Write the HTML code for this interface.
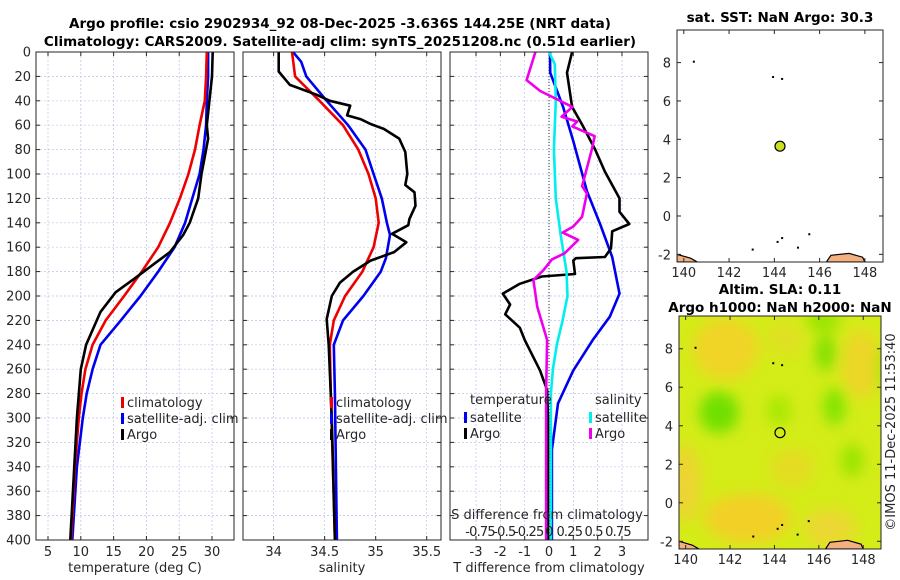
<!DOCTYPE html>
<html><head><meta charset="utf-8">
<style>
html,body{margin:0;padding:0;background:#fff;}
svg{display:block;font-family:"DejaVu Sans","Liberation Sans",sans-serif;}
text{fill:#262626;font-size:13px;}
.t{font-weight:bold;fill:#000;font-size:13.5px;}
</style></head>
<body>
<svg id="c" width="900" height="580" viewBox="0 0 900 580">
<text class="t" x="340" y="28" text-anchor="middle">Argo profile: csio 2902934_92 08-Dec-2025 -3.636S 144.25E (NRT data)</text>
<text class="t" x="340" y="46" text-anchor="middle">Climatology: CARS2009. Satellite-adj clim: synTS_20251208.nc (0.51d earlier)</text>
<g id="p1"></g>
<g id="p2"></g>
<g id="p3"></g>
<g id="m1"></g>
<g id="m2"></g>
<text class="t" x="780" y="22" text-anchor="middle">sat. SST: NaN Argo: 30.3</text>
<text class="t" x="780" y="294" text-anchor="middle">Altim. SLA: 0.11</text>
<text class="t" x="780" y="312" text-anchor="middle">Argo h1000: NaN h2000: NaN</text>
<text x="895" y="432" transform="rotate(-90 895 432)" text-anchor="middle" style="font-size:13px">©IMOS 11-Dec-2025 11:53:40</text>
</svg>
<script>
// depths (m)
const tClimDepth=[0,20,40,60,80,100,120,140,160,180,200,220,240,260,280,300,340,400];
const tClim=[29.2,29.1,28.9,28.1,27.4,26.4,25.1,23.6,21.8,19.3,16.6,13.8,11.8,10.7,10.1,9.7,9.1,8.5];
const tSatDepth=[0,20,40,60,80,100,120,140,160,180,200,220,240,260,280,300,340,400];
const tSat=[29.4,29.4,29.2,29.1,28.7,28.1,27.0,25.9,24.3,21.8,19.1,16.1,13.0,11.8,10.9,10.3,9.4,8.7];
const tArgoDepth=[0,20,40,60,71,80,100,120,140,150,164,172,186,197,213,240,260,300,400];
const tArgo=[30.1,30.0,29.6,29.2,29.4,29.1,28.4,27.9,26.6,25.6,23.6,21.6,18.1,15.3,13.0,10.8,10.0,9.4,8.4];
const sClimDepth=[0,20,40,60,80,100,120,140,160,169,180,200,220,240,280,400];
const sClim=[34.18,34.21,34.45,34.68,34.83,34.93,35.0,35.03,34.98,34.93,34.87,34.70,34.59,34.55,34.56,34.6];
const sSatDepth=[0,8,20,40,60,80,100,120,140,150,169,180,200,220,240,280,400];
const sSat=[34.19,34.27,34.32,34.52,34.73,34.9,34.98,35.06,35.11,35.14,35.1,35.05,34.88,34.68,34.59,34.6,34.62];
const sArgoDepth=[0,16,27,35,40,44,52,55,59,63,71,82,100,109,115,126,137,142,149,156,164,171,180,189,200,219,240,300,400];
const sArgo=[34.05,34.05,34.16,34.42,34.55,34.75,34.72,34.85,34.95,35.08,35.23,35.29,35.31,35.29,35.38,35.39,35.33,35.32,35.16,35.30,35.18,34.95,34.78,34.65,34.57,34.52,34.54,34.57,34.6];
const dTSatDepth=[0,17,45,73,114,141,168,198,217,236,261,288,326,400];
const dTSat=[0.04,0.05,0.58,1.0,1.56,2.1,2.6,2.9,2.5,1.8,1.0,0.37,0.12,0.12];
const dTArgoDepth=[0,17,45,61,80,98,120,131,141,147,161,168,169,171,182,184,190,198,207,215,226,236,261,277,300,400];
const dTArgo=[0.95,0.74,0.95,1.4,1.9,2.3,2.9,2.9,3.3,2.6,2.55,2.3,1.1,1.0,1.07,-0.29,-1.2,-1.9,-1.6,-1.8,-1.2,-1.0,-0.37,-0.08,-0.04,-0.04];
const dSSatDepth=[0,10,40,80,120,150,180,200,220,240,260,280,400];
const dSSat=[0.0,0.06,0.07,0.05,0.07,0.12,0.18,0.19,0.14,0.08,0.04,0.02,0.02];
const dSArgoDepth=[0,23,32,45,53,57,61,69,80,110,116,135,143,148,154,165,170,179,187,209,236,280,400];
const dSArgo=[-0.14,-0.23,-0.09,0.24,0.13,0.29,0.24,0.47,0.44,0.34,0.39,0.34,0.25,0.14,0.30,0.16,0.03,-0.06,-0.16,-0.12,-0.02,-0.03,-0.03];
const depthTicks=[0,20,40,60,80,100,120,140,160,180,200,220,240,260,280,300,320,340,360,380,400];
const p1Ticks=[5,10,15,20,25,30];
const p2Ticks=[34,34.5,35,35.5];
const p3Ticks=[-3,-2,-1,0,1,2,3];
const p3SLabels=["-0.75","-0.5","-0.25","0","0.25","0.5","0.75"];
const p3SVals=[-0.75,-0.5,-0.25,0,0.25,0.5,0.75];
const argoLon=[144.25], argoLat=[3.64];

const NS="http://www.w3.org/2000/svg";
function mk(p,tag,a,txt){const e=document.createElementNS(NS,tag);for(const k in a)e.setAttribute(k,a[k]);if(txt!=null)e.textContent=txt;p.appendChild(e);return e;}
const yTop=52,yBot=540;
const Y=d=>yTop+(d/400)*(yBot-yTop);

function panel(id,x0,x1,xmin,xmax,ticks,label,fmt){
  const g=document.getElementById(id);
  const X=v=>x0+(v-xmin)/(xmax-xmin)*(x1-x0);
  mk(g,'rect',{x:x0,y:yTop,width:x1-x0,height:yBot-yTop,fill:'#fff'});
  for(const d of depthTicks){
    const l=mk(g,'line',{x1:x0,x2:x1,y1:Y(d),y2:Y(d),stroke:'#b8c4e8','stroke-width':0.7,'stroke-dasharray':'2,2'});
    
    
    mk(g,'line',{x1:x0,x2:x0+4,y1:Y(d),y2:Y(d),stroke:'#262626'});
    mk(g,'line',{x1:x1,x2:x1-4,y1:Y(d),y2:Y(d),stroke:'#262626'});
  }
  for(const t of ticks){
    const l=mk(g,'line',{x1:X(t),x2:X(t),y1:yTop,y2:yBot,stroke:'#b8c4e8','stroke-width':0.7,'stroke-dasharray':'2,2'});
    
    
    mk(g,'line',{x1:X(t),x2:X(t),y1:yBot,y2:yBot-4,stroke:'#262626'});
    mk(g,'line',{x1:X(t),x2:X(t),y1:yTop,y2:yTop+4,stroke:'#262626'});
    const tx=mk(g,'text',{x:X(t),y:yBot+16,'text-anchor':'middle'},fmt(t));
    
    
  }
  const xl=mk(g,'text',{x:(x0+x1)/2,y:572,'text-anchor':'middle'},label);
  
  
  return {g,X};
}
function line(P,vals,depths,color,name,w){
  const pts=vals.map((v,i)=>P.X(v).toFixed(1)+','+Y(depths[i]).toFixed(1)).join(' ');
  const e=mk(P.g,'polyline',{points:pts,fill:'none',stroke:color,'stroke-width':w||2.6,'stroke-linejoin':'round'});
  
  
}
function frame(P,x0,x1){mk(P.g,'rect',{x:x0,y:yTop,width:x1-x0,height:yBot-yTop,fill:'none',stroke:'#262626','stroke-width':1});}
function legend(P,x,y,items){
  items.forEach((it,i)=>{
    const yy=y+i*16;
    const m=mk(P.g,'rect',{x:x,y:yy-9,width:3,height:11,fill:it[1]});
    
    
    const t=mk(P.g,'text',{x:x+6,y:yy+1},it[0]);
    
    
  });
}

// Panel 1
const P1=panel('p1',36,234,3.17,33.35,p1Ticks,'temperature (deg C)',t=>t);
depthTicks.forEach(d=>{const t=mk(P1.g,'text',{x:31,y:Y(d)+4.5,'text-anchor':'end'},d);
  
  });
line(P1,tSat,tSatDepth,'#0000ee','temp-satellite-line');
line(P1,tClim,tClimDepth,'#ee0000','temp-climatology-line');
line(P1,tArgo,tArgoDepth,'#000','temp-argo-line');
legend(P1,121,406,[['climatology','#ee0000'],['satellite-adj. clim','#0000ee'],['Argo','#000']]);
frame(P1,36,234);

// Panel 2
const P2=panel('p2',243,441,33.70,35.64,p2Ticks,'salinity',t=>t);
line(P2,sSat,sSatDepth,'#0000ee','sal-satellite-line');
line(P2,sClim,sClimDepth,'#ee0000','sal-climatology-line');
line(P2,sArgo,sArgoDepth,'#000','sal-argo-line');
legend(P2,330,406,[['climatology','#ee0000'],['satellite-adj. clim','#0000ee'],['Argo','#000']]);
frame(P2,243,441);

// Panel 3
const P3=panel('p3',450,648,-4.07,4.07,p3Ticks,'T difference from climatology',t=>t);
const z=mk(P3.g,'line',{x1:P3.X(0),x2:P3.X(0),y1:yTop,y2:yBot,stroke:'#333','stroke-width':1,'stroke-dasharray':'1,2'});


line(P3,dTSat,dTSatDepth,'#0000ee','dT-satellite-line');
line(P3,dTArgo,dTArgoDepth,'#000','dT-argo-line');
line(P3,dSSat.map(v=>v*4),dSSatDepth,'#00eeee','dS-satellite-line');
line(P3,dSArgo.map(v=>v*4),dSArgoDepth,'#ee00ee','dS-argo-line');
const h1=mk(P3.g,'text',{x:470,y:404},'temperature');


const h2=mk(P3.g,'text',{x:595,y:404},'salinity');


legend(P3,464,421,[['satellite','#0000ee'],['Argo','#000']]);
legend(P3,589,421,[['satellite','#00eeee'],['Argo','#ee00ee']]);
const st=mk(P3.g,'text',{x:547,y:519,'text-anchor':'middle'},'S difference from climatology');


p3SVals.forEach((v,i)=>{const t=mk(P3.g,'text',{x:P3.X(v*4)+(v<0?4:v>0?-4:0),y:536,'text-anchor':'middle','style':'letter-spacing:-0.8px'},p3SLabels[i]);
  
  });
frame(P3,450,648);

// Maps
function map(id,x0,x1,y0,y1,field){
  const g=document.getElementById(id);
  const lon0=139.7,lon1=148.8,lat0=-2.4,lat1=9.7;
  const X=v=>x0+(v-lon0)/(lon1-lon0)*(x1-x0);
  const Yl=v=>y1-(v-lat0)/(lat1-lat0)*(y1-y0);
  const cid='clip'+id;
  const defs=mk(g,'defs',{});
  const cp=mk(defs,'clipPath',{id:cid});mk(cp,'rect',{x:x0,y:y0,width:x1-x0,height:y1-y0});
  const f=mk(defs,'filter',{id:'bl'+id,x:'-50%',y:'-50%',width:'200%',height:'200%'});mk(f,'feGaussianBlur',{stdDeviation:7});
  const inner=mk(g,'g',{'clip-path':'url(#'+cid+')'});
  mk(inner,'rect',{x:x0,y:y0,width:x1-x0,height:y1-y0,fill:field?'#d4ec18':'#fff'});
  if(field){
    const fg=mk(inner,'g',{filter:'url(#bl'+id+')'});
    const blobs=[[141.8,8.0,1.5,1.6,'#f0d428'],[147.9,7.2,0.9,1.8,'#ecd628'],[142.8,-0.8,2.0,1.3,'#f2d028'],[140.0,1.0,0.7,2.0,'#ecd430'],[146.5,-1.3,1.2,1.0,'#ecd830'],[144.8,1.8,1.0,1.0,'#e4dc24'],[144.5,8.5,0.8,0.9,'#e0e020'],
      [141.5,4.7,0.9,1.1,'#70e000'],[146.7,5.0,0.5,1.0,'#80e400'],[146.3,7.8,0.45,1.0,'#80e000'],[144.2,4.8,0.55,0.8,'#a8e800'],[147.5,2.2,0.5,0.9,'#98e400'],[146.2,9.5,0.8,0.6,'#98e400'],[149,7,0.4,1.2,'#a8e800']];
    blobs.forEach(b=>{const e=mk(fg,'ellipse',{cx:X(b[0]),cy:Yl(b[1]),rx:b[2]*22,ry:b[3]*19,fill:b[4]});
      
      });
  }
  mk(inner,'path',{d:`M${X(146.3)},${y1} L${X(146.5)},${Yl(-2.05)} L${X(147.3)},${Yl(-1.95)} L${X(147.9)},${Yl(-2.15)} L${X(148.0)},${y1} Z`,fill:'#f4b080',stroke:'#000','stroke-width':1.2});
  mk(inner,'path',{d:`M${x0},${Yl(-2.0)} L${X(140.3)},${Yl(-2.2)} L${X(140.6)},${y1} L${x0},${y1} Z`,fill:'#f4b080',stroke:'#000','stroke-width':1.2});
  [[140.4,8.1],[143.9,7.3],[144.3,7.2],[149.3,6.8],[144.1,-1.3],[144.3,-1.1],[143.0,-1.7],[145.0,-1.6],[145.5,-0.9],[149.4,7.2]].forEach(p=>mk(inner,'rect',{x:X(p[0]),y:Yl(p[1]),width:2,height:2,fill:'#000'}));
  const dot=mk(inner,'circle',{cx:X(argoLon[0]),cy:Yl(argoLat[0]),r:5,fill:field?'none':'#c8e020',stroke:'#000','stroke-width':1.2});
  
  
  mk(g,'rect',{x:x0,y:y0,width:x1-x0,height:y1-y0,fill:'none',stroke:'#262626'});
  [140,142,144,146,148].forEach(v=>{
    mk(g,'line',{x1:X(v),x2:X(v),y1:y1,y2:y1-4,stroke:'#262626'});
    mk(g,'line',{x1:X(v),x2:X(v),y1:y0,y2:y0+4,stroke:'#262626'});
    const t=mk(g,'text',{x:X(v),y:y1+15,'text-anchor':'middle'},v);
    
    });
  [-2,0,2,4,6,8].forEach(v=>{
    mk(g,'line',{x1:x0,x2:x0+4,y1:Yl(v),y2:Yl(v),stroke:'#262626'});
    mk(g,'line',{x1:x1,x2:x1-4,y1:Yl(v),y2:Yl(v),stroke:'#262626'});
    const t=mk(g,'text',{x:x0-6,y:Yl(v)+5,'text-anchor':'end'},v);
    
    });
}
map('m1',677,883,30,262,false);
map('m2',679,881,316,549,true);
</script>
</body></html>
